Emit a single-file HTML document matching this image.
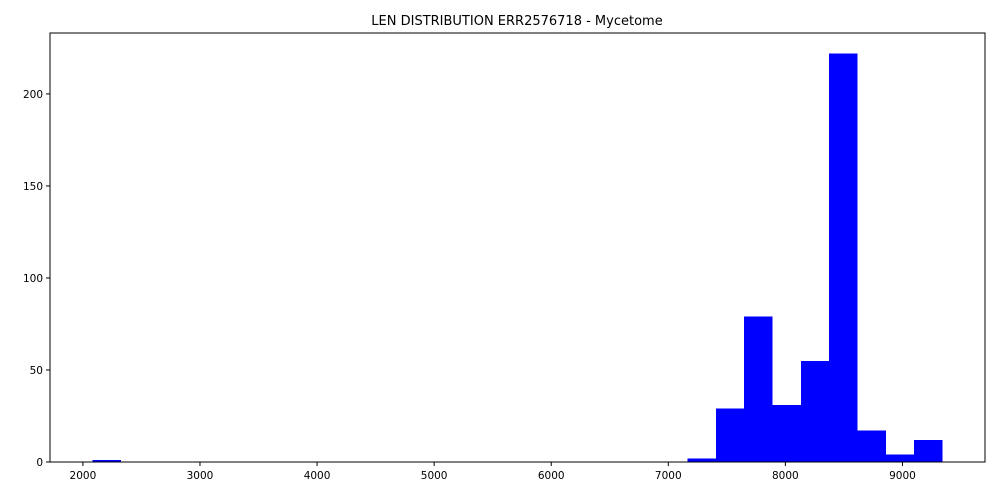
<!DOCTYPE html>
<html><head><meta charset="utf-8"><style>
body{margin:0;background:#fff;}
svg{display:block;font-family:"DejaVu Sans","Liberation Sans",sans-serif;}
</style></head><body>
<svg id="chart" width="1000" height="500">
<rect width="1000" height="500" fill="#fff"/>
<text x="517" y="25" text-anchor="middle" font-size="13">LEN DISTRIBUTION ERR2576718 - Mycetome</text>
<g id="bars" shape-rendering="crispEdges"></g>
<g id="xticks"></g>
<g id="yticks"></g>
<rect x="50" y="33" width="935" height="429" fill="none" stroke="#000" stroke-width="1"/>
</svg>
<script>
const binStart = 2082;
const binWidth = 242;
const counts = [1,0,0,0,0,0,0,0,0,0,0,0,0,0,0,0,0,0,0,0,0,2,29,79,31,55,222,17,4,12];
const xTickValues = [2000,3000,4000,5000,6000,7000,8000,9000];
const yTickValues = [0,50,100,150,200];

const L=50,R=985,T=33,B=462;
const xMin=1719,xMax=9705,yMax=233.1;
const xs=v=>L+(v-xMin)/(xMax-xMin)*(R-L);
const ys=v=>B-v/yMax*(B-T);
const NS="http://www.w3.org/2000/svg";
const bars=document.getElementById('bars');
counts.forEach((c,i)=>{
  if(c<=0) return;
  const x0=xs(binStart+i*binWidth), x1=xs(binStart+(i+1)*binWidth);
  const r=document.createElementNS(NS,'rect');
  r.setAttribute('x',x0);r.setAttribute('y',ys(c));
  r.setAttribute('width',x1-x0);r.setAttribute('height',B-ys(c));
  r.setAttribute('fill','#0000ff');
  
  
  bars.appendChild(r);
});
const xg=document.getElementById('xticks');
xTickValues.forEach(v=>{
  const x=xs(v);
  const l=document.createElementNS(NS,'line');
  l.setAttribute('x1',x);l.setAttribute('x2',x);l.setAttribute('y1',B);l.setAttribute('y2',B+4);
  l.setAttribute('stroke','#000');
  
  
  xg.appendChild(l);
  const t=document.createElementNS(NS,'text');
  t.setAttribute('x',x);t.setAttribute('y',B+17);t.setAttribute('text-anchor','middle');t.setAttribute('font-size','10.5');
  t.textContent=v;
  
  
  xg.appendChild(t);
});
const yg=document.getElementById('yticks');
yTickValues.forEach(v=>{
  const y=ys(v);
  const l=document.createElementNS(NS,'line');
  l.setAttribute('x1',L-4);l.setAttribute('x2',L);l.setAttribute('y1',y);l.setAttribute('y2',y);
  l.setAttribute('stroke','#000');
  
  
  yg.appendChild(l);
  const t=document.createElementNS(NS,'text');
  t.setAttribute('x',L-7);t.setAttribute('y',y+4);t.setAttribute('text-anchor','end');t.setAttribute('font-size','10.5');
  t.textContent=v;
  
  
  yg.appendChild(t);
});
</script>
</body></html>
